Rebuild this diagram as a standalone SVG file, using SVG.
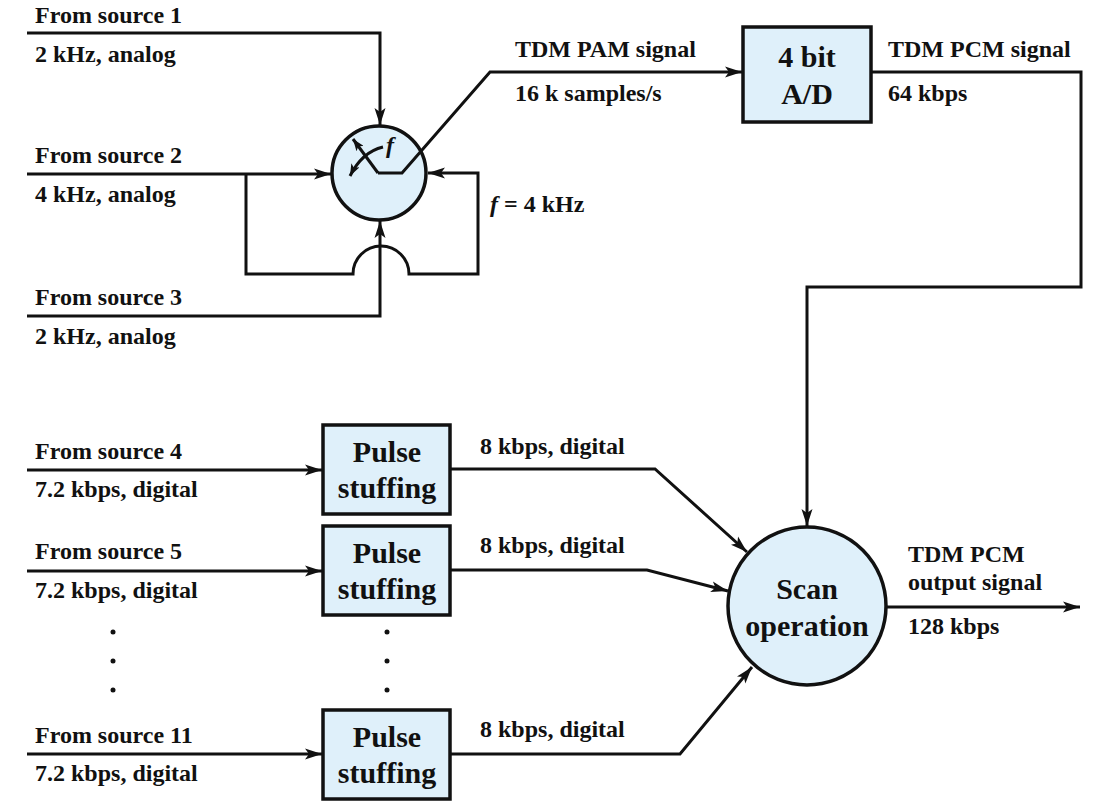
<svg xmlns="http://www.w3.org/2000/svg" width="1109" height="809" viewBox="0 0 1109 809">
<style>
.t{font-family:"Liberation Serif","Times New Roman",serif;font-weight:bold;font-size:24px;fill:#111}
.b{font-family:"Liberation Serif","Times New Roman",serif;font-weight:bold;font-size:30px;fill:#111;text-anchor:middle}
.i{font-family:"Liberation Serif","Times New Roman",serif;font-weight:bold;font-style:italic;fill:#111}
.ln{fill:none;stroke:#111;stroke-width:3}
.node{fill:#dff0fa;stroke:#111;stroke-width:3.5}
</style>
<defs>
<marker id="ah" markerUnits="userSpaceOnUse" markerWidth="18" markerHeight="12" refX="17" refY="6" orient="auto">
<path d="M0,0.5 L17,6 L0,11.5 L4,6 Z" fill="#111"/>
</marker>
<marker id="sh" markerUnits="userSpaceOnUse" markerWidth="13" markerHeight="9" refX="12" refY="4.5" orient="auto">
<path d="M0,0 L12,4.5 L0,9 L3,4.5 Z" fill="#111"/>
</marker>
</defs>
<rect width="1109" height="809" fill="#fff"/>

<g id="connectors">
<path class="ln" d="M27,33 H380 V125" marker-end="url(#ah)"/>
<path class="ln" d="M27,174 H331" marker-end="url(#ah)"/>
<path class="ln" d="M246,174 V274 H353 A28,28 0 0 1 409,274 H478 V173 H428" marker-end="url(#ah)"/>
<path class="ln" d="M27,316 H380 V221" marker-end="url(#ah)"/>
<path class="ln" d="M871,72 H1081 V287 H807 V526" marker-end="url(#ah)"/>
<path class="ln" d="M27,470 H322" marker-end="url(#ah)"/>
<path class="ln" d="M27,571 H322" marker-end="url(#ah)"/>
<path class="ln" d="M27,754 H322" marker-end="url(#ah)"/>
<path class="ln" d="M450,469 H655 L747,552" marker-end="url(#ah)"/>
<path class="ln" d="M450,570 H647 L728,591" marker-end="url(#ah)"/>
<path class="ln" d="M450,754 H680 L752,667" marker-end="url(#ah)"/>
<path class="ln" d="M886,607 H1080" marker-end="url(#ah)"/>
</g>

<g id="sampler">
<circle cx="379" cy="173" r="47" class="node"/>
<path class="ln" d="M378,173 L353,139" marker-end="url(#sh)"/>
<path class="ln" stroke-width="2.5" d="M383,147 Q362,152 350,176" marker-end="url(#sh)"/>
<text class="i" x="386" y="153" font-size="24">f</text>
</g>
<path id="pam-line" class="ln" d="M378,173 H402 L490,72 H742" marker-end="url(#ah)"/>

<g id="ad">
<rect x="743" y="27" width="128" height="95" class="node"/>
<text class="b" x="807" y="67">4 bit</text>
<text class="b" x="807" y="104">A/D</text>
</g>

<g id="ps1">
<rect x="323" y="425" width="127" height="89" class="node"/>
<text class="b" x="387" y="462">Pulse</text>
<text class="b" x="387" y="498">stuffing</text>
</g>
<g id="ps2">
<rect x="323" y="526" width="127" height="89" class="node"/>
<text class="b" x="387" y="563">Pulse</text>
<text class="b" x="387" y="599">stuffing</text>
</g>
<g id="ps3">
<rect x="323" y="710" width="127" height="89" class="node"/>
<text class="b" x="387" y="747">Pulse</text>
<text class="b" x="387" y="783">stuffing</text>
</g>

<g id="scan">
<circle cx="807" cy="606" r="79" class="node"/>
<text class="b" x="807" y="599">Scan</text>
<text class="b" x="807" y="636">operation</text>
</g>

<g id="dots" fill="#111">
<circle cx="113" cy="632" r="2.5"/><circle cx="113" cy="661" r="2.5"/><circle cx="113" cy="690" r="2.5"/>
<circle cx="387" cy="632" r="2.5"/><circle cx="387" cy="661" r="2.5"/><circle cx="387" cy="690" r="2.5"/>
</g>

<g id="labels">
<text class="t" x="35" y="23">From source 1</text>
<text class="t" x="35" y="62">2 kHz, analog</text>
<text class="t" x="35" y="163">From source 2</text>
<text class="t" x="35" y="202">4 kHz, analog</text>
<text class="t" x="35" y="305">From source 3</text>
<text class="t" x="35" y="344">2 kHz, analog</text>
<text class="t" x="490" y="212"><tspan font-style="italic">f</tspan> = 4 kHz</text>
<text class="t" x="515" y="57">TDM PAM signal</text>
<text class="t" x="515" y="101">16 k samples/s</text>
<text class="t" x="888" y="57">TDM PCM signal</text>
<text class="t" x="888" y="101">64 kbps</text>
<text class="t" x="35" y="459">From source 4</text>
<text class="t" x="35" y="497">7.2 kbps, digital</text>
<text class="t" x="35" y="559">From source 5</text>
<text class="t" x="35" y="598">7.2 kbps, digital</text>
<text class="t" x="35" y="743">From source 11</text>
<text class="t" x="35" y="781">7.2 kbps, digital</text>
<text class="t" x="480" y="454">8 kbps, digital</text>
<text class="t" x="480" y="553">8 kbps, digital</text>
<text class="t" x="480" y="737">8 kbps, digital</text>
<text class="t" x="908" y="562">TDM PCM</text>
<text class="t" x="908" y="590">output signal</text>
<text class="t" x="908" y="634">128 kbps</text>
</g>
</svg>
